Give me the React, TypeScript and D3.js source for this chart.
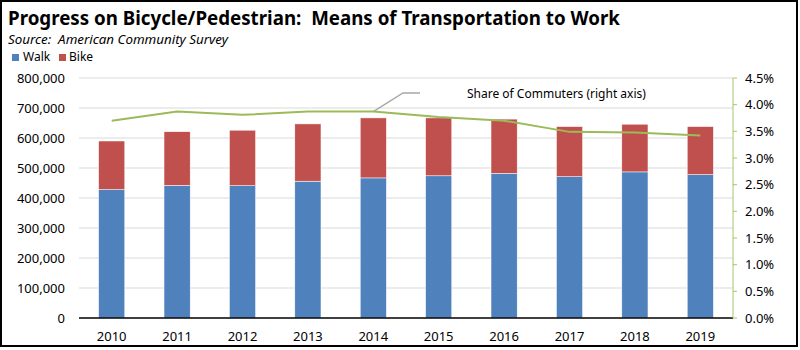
import React from "react";
import * as d3 from "d3";

const years = ["2010", "2011", "2012", "2013", "2014", "2015", "2016", "2017", "2018", "2019"];
const walk = [428000, 442000, 441000, 456000, 467000, 474000, 482000, 471000, 487000, 478000];
const bikeTotal = [590000, 621000, 626000, 647000, 667000, 667000, 663000, 638000, 646000, 638000];
const share = [3.70, 3.87, 3.81, 3.87, 3.87, 3.77, 3.70, 3.49, 3.48, 3.42];
const leftTicks = [0, 100000, 200000, 300000, 400000, 500000, 600000, 700000, 800000];
const rightTicks = [0, 0.5, 1, 1.5, 2, 2.5, 3, 3.5, 4, 4.5];

const W = 800, H = 350;
const L = 79, R = 733, T = 78, B = 318;
const FONT = "'Noto Sans', 'Open Sans', sans-serif";

export default function App() {
  const x = d3.scaleBand<string>().domain(years).range([L, R]).paddingInner(0.6).paddingOuter(0.3);
  const y = d3.scaleLinear().domain([0, 800000]).range([B, T]);
  const y2 = d3.scaleLinear().domain([0, 4.5]).range([B, T]);
  const fmt = d3.format(",");
  const cx = (d: string) => (x(d) as number) + x.bandwidth() / 2;
  const line = d3.line<number>().x((_, i) => cx(years[i])).y((v) => y2(v));
  const p14 = [cx("2014"), y2(share[4])];

  return (
    <svg width={W} height={H} style={{ position: "absolute", left: 0, top: 0 }}>
      <rect x={0} y={0} width={W} height={H} fill="#fff" />
      <rect x={1} y={1} width={796} height={345} fill="none" stroke="#000" strokeWidth={2} />
      <text x={8} y={25} fontFamily={FONT} fontWeight="bold" fontSize={19} textLength={612} lengthAdjust="spacingAndGlyphs" fill="#000">
        Progress on Bicycle/Pedestrian:{"\u00a0\u00a0"}Means of Transportation to Work
      </text>
      <text x={8} y={44} fontFamily={FONT} fontStyle="italic" fontSize={12.5} textLength={220} lengthAdjust="spacingAndGlyphs" fill="#000">
        Source:{"\u00a0\u00a0"}American Community Survey
      </text>
      <rect x={12} y={54} width={7} height={7} fill="#4f81bd" />
      <text x={23} y={61} fontFamily={FONT} fontSize={12} fill="#000">Walk</text>
      <rect x={59} y={54} width={7} height={7} fill="#c0504d" />
      <text x={69} y={61} fontFamily={FONT} fontSize={12} fill="#000">Bike</text>

      {leftTicks.map((t) => (
        <g key={t}>
          {t > 0 && <line x1={L} x2={R} y1={y(t)} y2={y(t)} stroke="#d9d9d9" strokeWidth={1} />}
          <text x={65} y={y(t) + 4.5} textAnchor="end" fontFamily={FONT} fontSize={13} fill="#000">{fmt(t)}</text>
        </g>
      ))}

      {years.map((yr, i) => (
        <g key={yr}>
          <rect x={x(yr)} y={y(walk[i])} width={x.bandwidth()} height={B - y(walk[i])} fill="#4f81bd" stroke="#ffffff" strokeWidth={0.5} />
          <rect x={x(yr)} y={y(bikeTotal[i])} width={x.bandwidth()} height={y(walk[i]) - y(bikeTotal[i])} fill="#c0504d" stroke="#ffffff" strokeWidth={0.5} />
          <text x={cx(yr)} y={341} textAnchor="middle" fontFamily={FONT} fontSize={13} fill="#000">{yr}</text>
        </g>
      ))}

      <line x1={L} x2={R} y1={B} y2={B} stroke="#000" strokeWidth={1.5} />
      <line x1={R} x2={R} y1={T} y2={B} stroke="#a9c46c" strokeWidth={1} />
      {rightTicks.map((t) => (
        <g key={t}>
          <line x1={R} x2={R + 4} y1={y2(t)} y2={y2(t)} stroke="#a9c46c" strokeWidth={1} />
          <text x={745} y={y2(t) + 4.5} fontFamily={FONT} fontSize={13} fill="#000">{t.toFixed(1)}%</text>
        </g>
      ))}

      <path d={line(share) as string} fill="none" stroke="#9bbb59" strokeWidth={2} />
      <polyline points={`${p14[0]},${p14[1]} 403,93 420,93`} fill="none" stroke="#a6a6a6" strokeWidth={1.3} />
      <text x={467} y={98} fontFamily={FONT} fontSize={12} fill="#000">Share of Commuters (right axis)</text>
    </svg>
  );
}
